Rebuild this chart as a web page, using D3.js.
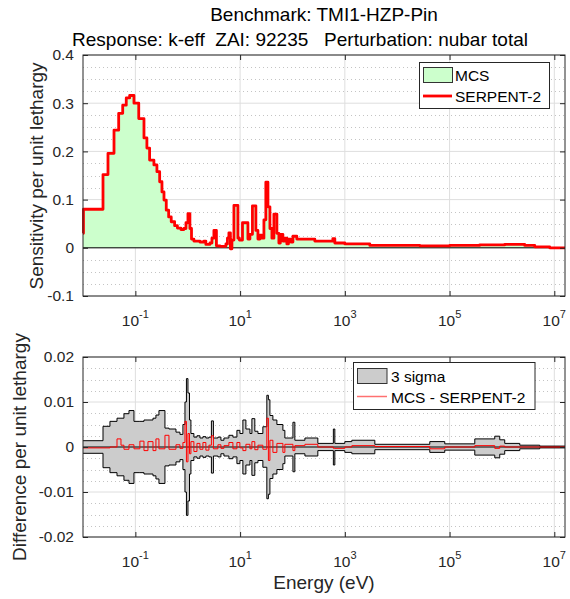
<html>
<head>
<script src="https://d3js.org/d3.v7.min.js"></script>
<style>
  body { margin: 0; background: #fff; }
  text { font-family: "Liberation Sans", Arial, sans-serif; }
</style>
</head>
<body>
<div id="chart"></div>
<script>
// --- sensitivity profile (upper panel): group lower bounds in eV, last entry is the top bound
const sensBounds = [1.0e-2, 1.02e-2, 2.41e-2, 3.0e-2, 3.91e-2, 4.80e-2, 5.73e-2, 6.70e-2, 7.78e-2, 9.4e-2,
  0.116, 0.146, 0.166, 0.187, 0.226, 0.258, 0.291, 0.322, 0.352, 0.389,
  0.432, 0.484, 0.562, 0.635, 0.741, 0.846, 0.925, 1.01, 1.10, 1.18,
  1.31, 1.71, 2.04, 2.22, 2.65, 2.90, 3.16, 3.53, 4.12, 5.36,
  5.73, 6.11, 6.53, 6.98, 7.62, 9.08, 9.70, 11.1, 14.1, 15.4,
  17.2, 20.0, 21.9, 23.9, 26.1, 28.5, 31.0, 34.0, 37.1, 40.5,
  44.2, 50.4, 55.0, 58.7, 65.6, 71.6, 78.2, 83.6, 93.1, 102,
  121, 267, 590, 644, 1000, 3000, 2.7e4, 1.01e5, 3.77e5, 1.13e6,
  2.72e6, 4.23e6, 8.17e6, 1.6e7];
const sensMCS = [0.030, 0.080, 0.152, 0.196, 0.244, 0.279, 0.296, 0.311, 0.316, 0.300,
  0.268, 0.228, 0.207, 0.182, 0.172, 0.158, 0.137, 0.116, 0.099, 0.078,
  0.064, 0.054, 0.046, 0.041, 0.038, 0.040, 0.052, 0.071, 0.040, 0.018,
  0.014, 0.012, 0.014, 0.007, 0.010, 0.020, 0.036, 0.004, 0.003, 0.008,
  0.020, 0.031, -0.002, 0.016, 0.088, 0.020, 0.016, 0.052, 0.018, 0.028,
  0.087, 0.036, 0.018, 0.026, 0.020, 0.058, 0.136, 0.085, 0.040, 0.020,
  0.070, 0.030, 0.010, 0.028, 0.014, 0.020, 0.008, 0.018, 0.012, 0.024,
  0.018, 0.014, 0.019, 0.010, 0.008, 0.005, 0.004, 0.005, 0.006, 0.007,
  0.005, 0.002, 0.000];
const sensSerpent = sensMCS.slice(); // the two codes agree to within the line width

// --- difference panel: group bounds (eV), 3 sigma half width, MCS - SERPENT-2
const diffBounds = [1.0e-2, 2.41e-2, 3.27e-2, 4.46e-2, 5.31e-2, 6.05e-2, 7.55e-2, 9.4e-2, 0.122, 0.146,
  0.174, 0.217, 0.247, 0.282, 0.367, 0.438, 0.596, 0.710, 0.809, 0.885,
  0.944, 1.01, 1.08, 1.15, 1.31, 1.50, 1.71, 1.95, 2.22, 2.54,
  2.83, 3.09, 3.77, 4.30, 4.91, 6.11, 7.29, 8.69, 9.91, 11.3,
  12.9, 15.4, 16.8, 19.1, 21.9, 27.2, 32.4, 34.7, 37.1, 42.3,
  50.4, 65.6, 71.6, 102, 111, 173, 305, 604, 644, 1000,
  1360, 3740, 4.19e4, 8.09e4, 3.03e5, 7.29e5, 9.08e5, 1.13e6, 2.19e6, 5.26e6,
  1.6e7];
const sigma3 = [0.0014, 0.0046, 0.0057, 0.0064, 0.0064, 0.0074, 0.0081, 0.0057, 0.0057, 0.0060,
  0.0060, 0.0064, 0.0071, 0.0081, 0.0042, 0.0040, 0.0033, 0.0028, 0.0050, 0.0100,
  0.0152, 0.0120, 0.0060, 0.0030, 0.0022, 0.0025, 0.0020, 0.0023, 0.0020, 0.0022,
  0.0058, 0.0020, 0.0022, 0.0015, 0.0020, 0.0026, 0.0022, 0.0037, 0.0030, 0.0060,
  0.0040, 0.0030, 0.0063, 0.0035, 0.0030, 0.0045, 0.0115, 0.0105, 0.0070, 0.0060,
  0.0050, 0.0037, 0.0020, 0.0055, 0.0015, 0.0020, 0.0008, 0.0040, 0.0008, 0.0012,
  0.0015, 0.0006, 0.0012, 0.0007, 0.0018, 0.0024, 0.0016, 0.0008, 0.0004, 0.0002];
const diffVals = [-0.0002, -0.0002, 0.0000, 0.0018, 0.0004, -0.0005, 0.0005, -0.0004, 0.0013, -0.0008,
  0.0012, -0.0008, 0.0018, -0.0004, 0.0026, -0.0005, 0.0005, -0.0003, 0.0010, 0.0057,
  -0.0033, 0.0030, -0.0015, 0.0012, -0.0010, 0.0008, -0.0005, 0.0010, -0.0007, 0.0004,
  0.0025, -0.0004, 0.0005, -0.0003, 0.0003, 0.0010, -0.0004, 0.0010, -0.0002, -0.0008,
  0.0006, -0.0004, 0.0012, -0.0006, 0.0004, -0.0005, 0.0064, -0.0030, 0.0015, -0.0012,
  0.0008, -0.0012, 0.0006, -0.0008, 0.0003, 0.0006, 0.0000, -0.0003, -0.0003, 0.0000,
  0.0003, 0.0001, -0.0004, 0.0000, 0.0003, -0.0003, 0.0002, 0.0000, 0.0000, 0.0000];

const xTicks = [1e-1, 1e1, 1e3, 1e5, 1e7];
const xTickExp = ['-1', '1', '3', '5', '7'];
const topYTicks = [-0.1, 0, 0.1, 0.2, 0.3, 0.4];
const botYTicks = [-0.02, -0.01, 0, 0.01, 0.02];

const width = 570, height = 599;
const left = 83, right = 565;
const ink = '#262626';

const svg = d3.select('#chart').append('svg')
  .attr('width', width)
  .attr('height', height);

const x = d3.scaleLog().domain([1e-2, 1.6e7]).range([left, right]);
const yTop = d3.scaleLinear().domain([-0.1, 0.4]).range([296, 55]);
const yBot = d3.scaleLinear().domain([-0.02, 0.02]).range([537, 357]);

// stair points: one per group plus the closing bound
function stairs(bounds, vals) {
  const pts = vals.map((v, i) => [bounds[i], v]);
  pts.push([bounds[bounds.length - 1], vals[vals.length - 1]]);
  return pts;
}

function grid(g, y, majors, minorStep) {
  const [y0, y1] = y.domain();
  const n = Math.round((y1 - y0) / minorStep);
  const minors = d3.range(n + 1).map(i => y0 + i * minorStep)
    .filter(v => !majors.some(m => Math.abs(m - v) < minorStep / 10));
  g.append('g').selectAll('line').data(minors).join('line')
    .attr('x1', left).attr('x2', right)
    .attr('y1', d => Math.round(y(d)) + 0.5).attr('y2', d => Math.round(y(d)) + 0.5)
    .attr('stroke', '#c4c4c4').attr('stroke-dasharray', '1,3');
  g.append('g').selectAll('line').data(majors).join('line')
    .attr('x1', left).attr('x2', right)
    .attr('y1', d => y(d)).attr('y2', d => y(d))
    .attr('stroke', '#dedede');
  g.append('g').selectAll('line').data(xTicks).join('line')
    .attr('x1', d => x(d)).attr('x2', d => x(d))
    .attr('y1', y.range()[1]).attr('y2', y.range()[0])
    .attr('stroke', '#dedede');
}

function frame(g, y, yTicks) {
  const [bottom, top] = y.range();
  const fmt = d => (d === 0 ? '0' : String(d));
  g.append('g').attr('transform', `translate(0,${bottom})`)
    .call(d3.axisBottom(x).tickValues(xTicks).tickSizeInner(-5).tickSizeOuter(0).tickFormat(''));
  g.append('g').attr('transform', `translate(0,${top})`)
    .call(d3.axisTop(x).tickValues(xTicks).tickSizeInner(-5).tickSizeOuter(0).tickFormat(''));
  g.append('g').attr('transform', `translate(${left},0)`)
    .call(d3.axisLeft(y).tickValues(yTicks).tickSizeInner(-5).tickSizeOuter(0).tickPadding(9).tickFormat(fmt));
  g.append('g').attr('transform', `translate(${right},0)`)
    .call(d3.axisRight(y).tickValues(yTicks).tickSizeInner(-5).tickSizeOuter(0).tickFormat(''));
  g.selectAll('.domain').remove();
  g.selectAll('.tick line').attr('stroke', ink);
  g.selectAll('.tick text').attr('fill', ink).style('font-size', '15.5px');
  g.append('rect')
    .attr('x', left).attr('y', top)
    .attr('width', right - left).attr('height', bottom - top)
    .attr('fill', 'none').attr('stroke', ink).attr('stroke-width', 1);

  const lab = g.append('g').selectAll('text').data(xTicks).join('text')
    .attr('x', d => x(d)).attr('y', bottom + 30)
    .attr('text-anchor', 'middle').attr('fill', ink)
    .style('font-size', '15.5px');
  lab.append('tspan').text('10');
  lab.append('tspan').attr('dy', -8).style('font-size', '11px').text((d, i) => xTickExp[i]);
}

// ---------- upper panel ----------
const gTop = svg.append('g');
grid(gTop, yTop, topYTicks, 0.025);

const sensPts = stairs(sensBounds, sensMCS);
gTop.append('path').datum(sensPts)
  .attr('fill', '#ccffcc')
  .attr('d', d3.area().x(d => x(d[0])).y0(yTop(0)).y1(d => yTop(d[1])).curve(d3.curveStepAfter));
gTop.append('path').datum(sensPts)
  .attr('fill', 'none').attr('stroke', '#000').attr('stroke-width', 1)
  .attr('d', d3.line().x(d => x(d[0])).y(d => yTop(d[1])).curve(d3.curveStepAfter));
gTop.append('line')
  .attr('x1', left).attr('x2', right).attr('y1', yTop(0)).attr('y2', yTop(0))
  .attr('stroke', '#000');
gTop.append('path').datum(stairs(sensBounds, sensSerpent))
  .attr('fill', 'none').attr('stroke', '#ff0000').attr('stroke-width', 2.8)
  .attr('stroke-linejoin', 'round')
  .attr('d', d3.line().x(d => x(d[0])).y(d => yTop(d[1])).curve(d3.curveStepAfter));
frame(gTop, yTop, topYTicks);

// legend
const lgTop = gTop.append('g');
lgTop.append('rect').attr('x', 419.5).attr('y', 62.5).attr('width', 130).attr('height', 46)
  .attr('fill', '#fff').attr('stroke', ink);
lgTop.append('rect').attr('x', 423.5).attr('y', 67.5).attr('width', 29).attr('height', 15)
  .attr('fill', '#ccffcc').attr('stroke', '#333');
lgTop.append('text').attr('x', 455).attr('y', 81).style('font-size', '15.5px').attr('fill', '#000').text('MCS');
lgTop.append('line').attr('x1', 423).attr('x2', 452).attr('y1', 96).attr('y2', 96)
  .attr('stroke', '#ff0000').attr('stroke-width', 2.8);
lgTop.append('text').attr('x', 455).attr('y', 102).style('font-size', '15.5px').attr('fill', '#000').text('SERPENT-2');

// ---------- lower panel ----------
const gBot = svg.append('g');
grid(gBot, yBot, botYTicks, 0.0025);

const bandPts = stairs(diffBounds, sigma3);
gBot.append('path').datum(bandPts)
  .attr('fill', '#cccccc')
  .attr('d', d3.area().x(d => x(d[0])).y0(d => yBot(-d[1])).y1(d => yBot(d[1])).curve(d3.curveStepAfter));
gBot.append('path').datum(bandPts)
  .attr('fill', 'none').attr('stroke', '#000')
  .attr('d', d3.line().x(d => x(d[0])).y(d => yBot(d[1])).curve(d3.curveStepAfter));
gBot.append('path').datum(bandPts)
  .attr('fill', 'none').attr('stroke', '#000')
  .attr('d', d3.line().x(d => x(d[0])).y(d => yBot(-d[1])).curve(d3.curveStepAfter));
gBot.append('line')
  .attr('x1', left).attr('x2', right).attr('y1', yBot(0)).attr('y2', yBot(0))
  .attr('stroke', '#000');
gBot.append('path').datum(stairs(diffBounds, diffVals))
  .attr('fill', 'none').attr('stroke', '#ff0000').attr('stroke-width', 1)
  .attr('d', d3.line().x(d => x(d[0])).y(d => yBot(d[1])).curve(d3.curveStepAfter));
frame(gBot, yBot, botYTicks);

const lgBot = gBot.append('g');
lgBot.append('rect').attr('x', 353.5).attr('y', 362.5).attr('width', 181.5).attr('height', 47)
  .attr('fill', '#fff').attr('stroke', ink);
lgBot.append('rect').attr('x', 357.5).attr('y', 368.5).attr('width', 29.5).attr('height', 15)
  .attr('fill', '#cccccc').attr('stroke', '#333');
lgBot.append('text').attr('x', 391).attr('y', 381.5).style('font-size', '15.5px').attr('fill', '#000').text('3 sigma');
lgBot.append('line').attr('x1', 357).attr('x2', 387).attr('y1', 396.5).attr('y2', 396.5)
  .attr('stroke', '#ff7070').attr('stroke-width', 1.5);
lgBot.append('text').attr('x', 391).attr('y', 403).style('font-size', '15.5px').attr('fill', '#000').text('MCS - SERPENT-2');

// ---------- titles and axis labels ----------
svg.append('text').attr('x', 324).attr('y', 21).attr('text-anchor', 'middle')
  .style('font-size', '19px').attr('fill', '#000').text('Benchmark: TMI1-HZP-Pin');
svg.append('text').attr('x', 300).attr('y', 46).attr('text-anchor', 'middle')
  .style('font-size', '19px').attr('fill', '#000')
  .attr('xml:space', 'preserve').style('white-space', 'pre')
  .text('Response: k-eff  ZAI: 92235   Perturbation: nubar total');
svg.append('text').attr('transform', 'rotate(-90)')
  .attr('x', -176).attr('y', 43).attr('text-anchor', 'middle')
  .style('font-size', '19px').attr('fill', ink).text('Sensitivity per unit lethargy');
svg.append('text').attr('transform', 'rotate(-90)')
  .attr('x', -447).attr('y', 26).attr('text-anchor', 'middle')
  .style('font-size', '19px').attr('fill', ink).text('Difference per unit lethargy');
svg.append('text').attr('x', 324).attr('y', 589).attr('text-anchor', 'middle')
  .style('font-size', '19px').attr('fill', ink).text('Energy (eV)');
</script>
</body>
</html>
